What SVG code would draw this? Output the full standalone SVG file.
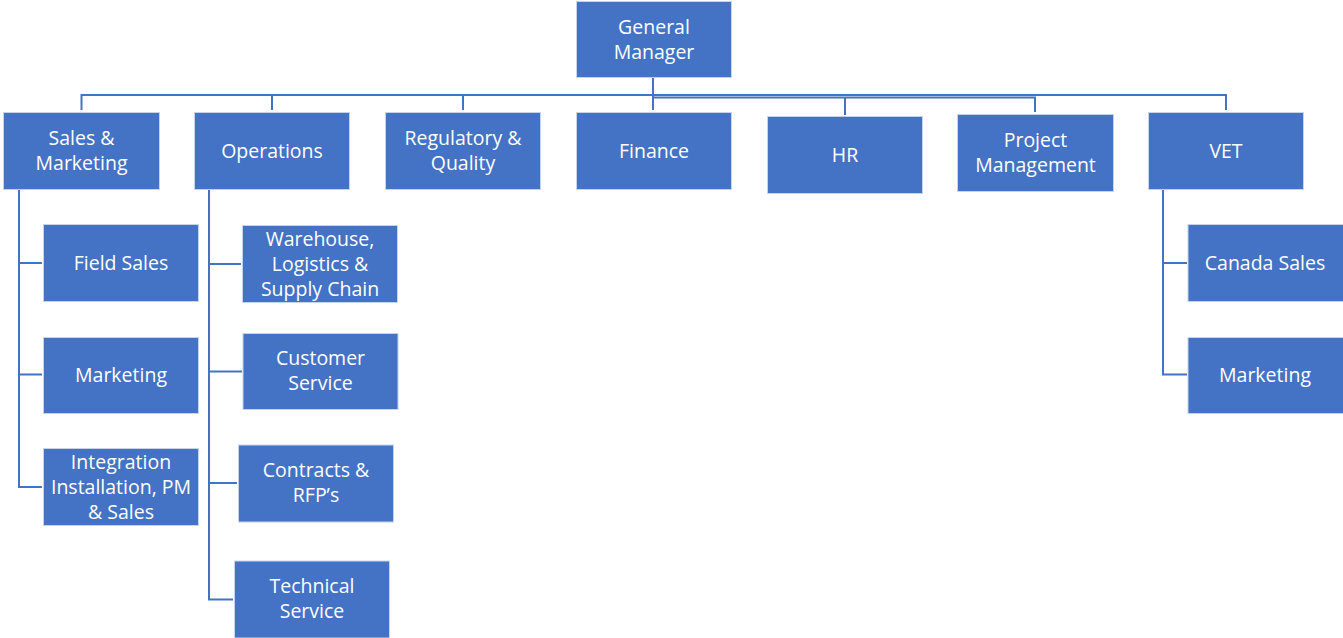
<svg xmlns="http://www.w3.org/2000/svg" width="1343" height="638" viewBox="0 0 1343 638">
<style>
.box{fill:#4472C4;stroke:#C5D3EC;stroke-width:1}
.lbl{font-family:"Open Sans","Noto Sans","Liberation Sans",sans-serif;font-size:19.5px;fill:#FFFFFF;text-anchor:middle}
.ln{fill:none;stroke:#4472C4;stroke-width:2}
</style>
<rect width="1343" height="638" fill="#FFFFFF"/>
<g id="connectors">
<path class="ln" d="M653,78 V95 M81.5,110 V95 H1226 V110 M272,95 V110 M463,95 V110 M653,95 V110"/>
<path class="ln" d="M653,97.5 H1035 V112 M845,97.5 V115"/>
<path class="ln" d="M19,190 V487 H42 M19,263 H42 M19,374.5 H42"/>
<path class="ln" d="M209,190 V599.5 H233 M209,264 H241 M209,371.5 H242 M209,483 H237"/>
<path class="ln" d="M1163,190 V374.5 H1187 M1163,263 H1187"/>
</g>
<g id="gm"><rect class="box" x="576.5" y="1.5" width="155" height="76"/><text class="lbl" x="654" y="33.5">General<tspan x="654" y="58.5">Manager</tspan></text></g>
<g id="sales"><rect class="box" x="3.5" y="112.5" width="156" height="77"/><text class="lbl" x="81.5" y="145">Sales &amp;<tspan x="81.5" y="170">Marketing</tspan></text></g>
<g id="operations"><rect class="box" x="194.5" y="112.5" width="155" height="77"/><text class="lbl" x="272" y="157.5">Operations</text></g>
<g id="regulatory"><rect class="box" x="385.5" y="112.5" width="155" height="77"/><text class="lbl" x="463" y="145">Regulatory &amp;<tspan x="463" y="170">Quality</tspan></text></g>
<g id="finance"><rect class="box" x="576.5" y="112.5" width="155" height="77"/><text class="lbl" x="654" y="157.5">Finance</text></g>
<g id="hr"><rect class="box" x="767.5" y="116.5" width="155" height="77"/><text class="lbl" x="845" y="161.5">HR</text></g>
<g id="pm"><rect class="box" x="957.5" y="114.5" width="156" height="77"/><text class="lbl" x="1035.5" y="147">Project<tspan x="1035.5" y="172">Management</tspan></text></g>
<g id="vet"><rect class="box" x="1148.5" y="112.5" width="155" height="77"/><text class="lbl" x="1226" y="157.5">VET</text></g>
<g id="field-sales"><rect class="box" x="43.5" y="224.5" width="155" height="77"/><text class="lbl" x="121" y="269.5">Field Sales</text></g>
<g id="marketing-sales"><rect class="box" x="43.5" y="337.5" width="155" height="76"/><text class="lbl" x="121" y="382">Marketing</text></g>
<g id="integration"><rect class="box" x="43.5" y="448.5" width="155" height="77"/><text class="lbl" x="121" y="468.5">Integration<tspan x="121" y="493.5">Installation, PM</tspan><tspan x="121" y="518.5">&amp; Sales</tspan></text></g>
<g id="warehouse"><rect class="box" x="242.5" y="225.5" width="155" height="77"/><text class="lbl" x="320" y="245.5">Warehouse,<tspan x="320" y="270.5">Logistics &amp;</tspan><tspan x="320" y="295.5">Supply Chain</tspan></text></g>
<g id="customer-service"><rect class="box" x="243" y="333.5" width="155" height="76"/><text class="lbl" x="320.5" y="365">Customer<tspan x="320.5" y="390">Service</tspan></text></g>
<g id="contracts"><rect class="box" x="238.5" y="445" width="155" height="77"/><text class="lbl" x="316" y="477">Contracts &amp;<tspan x="316" y="502">RFP’s</tspan></text></g>
<g id="technical"><rect class="box" x="234.5" y="561" width="155" height="77"/><text class="lbl" x="312" y="593">Technical<tspan x="312" y="618">Service</tspan></text></g>
<g id="canada-sales"><rect class="box" x="1188" y="224.5" width="156" height="77"/><text class="lbl" x="1265" y="269.5">Canada Sales</text></g>
<g id="marketing-vet"><rect class="box" x="1188" y="337.5" width="156" height="76"/><text class="lbl" x="1265" y="382">Marketing</text></g>
</svg>
